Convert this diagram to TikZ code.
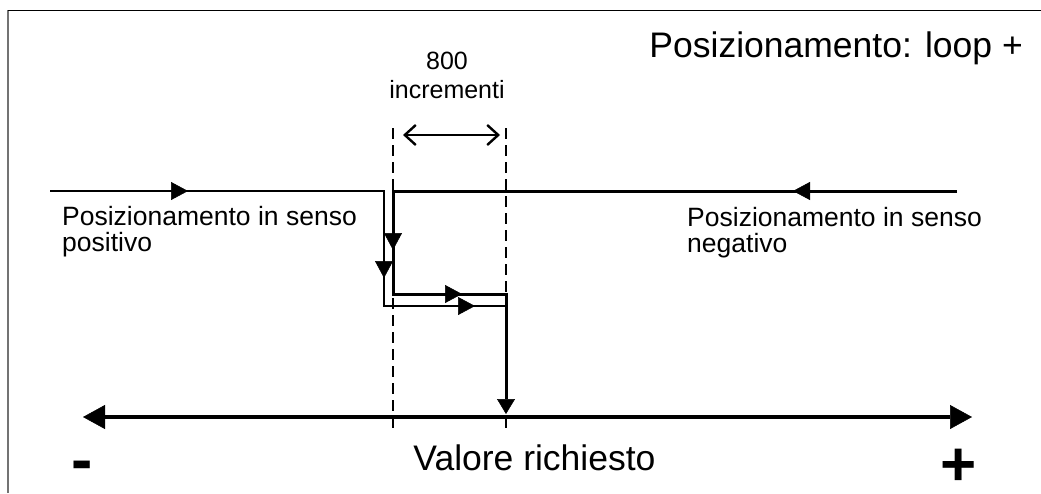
\documentclass[tikz,border=0pt]{standalone}
\usepackage{fontspec}
\setmainfont{Liberation Sans}
\usepackage{tikz}
\usetikzlibrary{arrows.meta,decorations.markings}
\tikzstyle{posline}  = [line width=2.5pt, line join=miter]
\tikzstyle{negline}  = [line width=3pt, line join=miter]
\tikzstyle{guide}    = [line width=1.6pt, dash pattern=on 11pt off 6pt]
\tikzstyle{axis}     = [line width=4pt, {Triangle[length=22pt,width=24pt,line width=0.5pt]}-{Triangle[length=22pt,width=24pt,line width=0.5pt]}]
\tikzstyle{span}     = [line width=1.8pt, {Straight Barb[length=11pt,width=20pt,line width=2.4pt]}-{Straight Barb[length=11pt,width=20pt,line width=2.4pt]}]
\tikzset{tri/.style={postaction={decorate,decoration={markings,
  mark=at position #1 with {\arrow{Triangle[length=17pt,width=18pt,line width=0.5pt]}}}}}}

\begin{document}
\begin{tikzpicture}[x=1pt,y=-1pt]
		\useasboundingbox (0,0) rectangle (1041,493);

		% frame
		\coordinate (fr1) at (8,493);
		\coordinate (fr2) at (8,10);
		\coordinate (fr3) at (1041,10);
		\draw[line width=1.5pt, black!55] (fr1) -- (fr2);
		\draw[line width=1pt] (fr2) -- (fr3);

		\node[anchor=base east, inner sep=0, font=\fontsize{35.5}{40}\selectfont] (title) at (1023,57) {Posizionamento: loop +};

		% dashed guides and width
		\coordinate (g1a) at (393,128);
		\coordinate (g1b) at (393,430);
		\coordinate (g2a) at (506,128);
		\coordinate (g2b) at (506,430);
		\draw[guide] (g1a) -- (g1b);
		\draw[guide] (g2a) -- (g2b);

		\coordinate (w1) at (403,135);
		\coordinate (w2) at (500,135);
		\draw[span] (w1) -- (w2);
		\node[align=center, inner sep=0, anchor=north, font=\fontsize{25}{29}\selectfont] (incr) at (447,52) {800\\incrementi};

		% positive approach
		\coordinate (pA) at (50,191);
		\coordinate (pB) at (384,191);
		\coordinate (pC) at (384,306);
		\coordinate (pD) at (506,306);
		\draw[posline, tri=138pt, tri=421pt, tri=540pt] (pA) -- (pB) -- (pC) -- (pD);
		\node[align=left, inner sep=0, anchor=north west, font=\fontsize{26.5}{26}\selectfont] (postxt) at (62,206) {Posizionamento in senso\\positivo};

		% negative approach
		\coordinate (nA) at (957,191);
		\coordinate (nB) at (393,191);
		\coordinate (nC) at (393,294);
		\coordinate (nD) at (506,294);
		\coordinate (nE) at (506,414);
		\draw[negline, tri=164pt, tri=623pt, tri=736pt, -{Triangle[length=15pt,width=18pt,line width=0.5pt]}] (nA) -- (nB) -- (nC) -- (nD) -- (nE);
		\node[align=left, inner sep=0, anchor=north west, font=\fontsize{26.5}{26}\selectfont] (negtxt) at (687,207) {Posizionamento in senso\\negativo};

		% axis
		\coordinate (axL) at (83,417);
		\coordinate (axR) at (972,417);
		\draw[axis] (axL) -- (axR);
		\node[anchor=base, inner sep=0, font=\fontsize{35.5}{40}\selectfont] (valore) at (534.5,470) {Valore richiesto};
		\node[anchor=base, inner sep=0, font=\bfseries\fontsize{64}{64}\selectfont] (minus) at (82.5,481) {-};
		\node[anchor=base, inner sep=0, font=\bfseries\fontsize{62}{62}\selectfont] (plus) at (958.5,485) {+};
	\end{tikzpicture}
\end{document}
